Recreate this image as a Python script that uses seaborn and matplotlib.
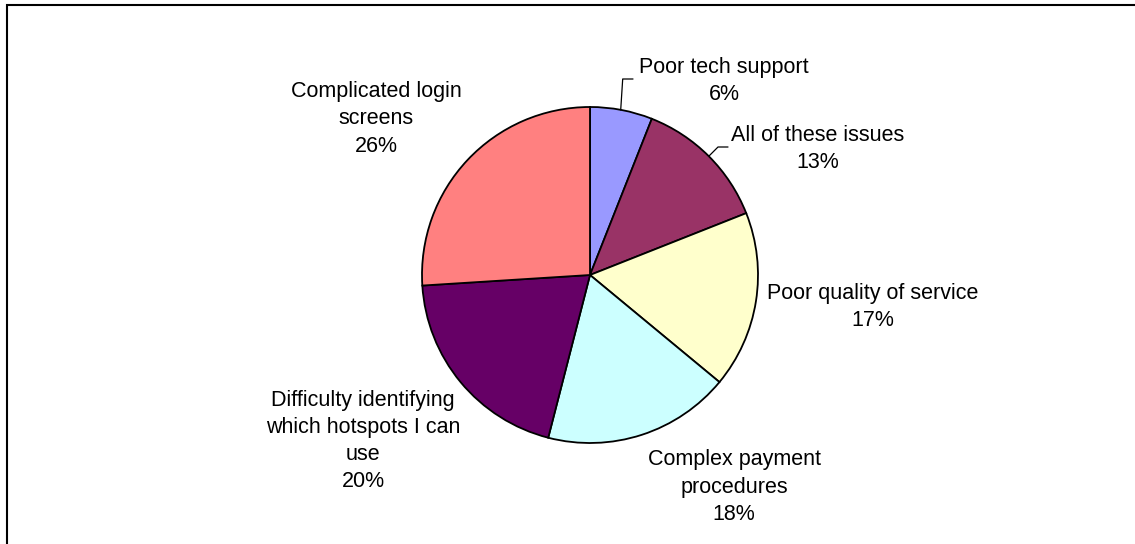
import matplotlib
matplotlib.use("Agg")
import matplotlib.pyplot as plt
import seaborn as sns
from matplotlib.patches import Rectangle

# slice data, clockwise from 12 o'clock
categories = [
    "Poor tech support",
    "All of these issues",
    "Poor quality of service",
    "Complex payment\nprocedures",
    "Difficulty identifying\nwhich hotspots I can\nuse",
    "Complicated login\nscreens",
]
shares = [6, 13, 17, 18, 20, 26]
slice_colors = ["#9999FF", "#993366", "#FFFFCC", "#CCFFFF", "#660066", "#FF8080"]

# label block centres in pixels (x from left, y from top)
label_pos = [(724, 81), (818, 149), (873, 307), (734, 487), (363, 441), (376, 119)]

# leader lines for the two small slices (pixels, y from top)
leaders = [
    [(620.7, 110), (622.7, 79), (633, 79)],
    [(709, 156), (718, 147), (728, 147)],
]

W, H = 1135, 544
sns.set_theme(style="white")
plt.rcParams["font.family"] = ["Liberation Sans", "DejaVu Sans"]

fig = plt.figure(figsize=(W / 100, H / 100), dpi=100)
ax = fig.add_axes([0, 0, 1, 1])

palette = sns.color_palette(slice_colors)
ax.pie(shares, colors=palette, startangle=90, counterclock=False,
       center=(590, H - 275), radius=168, frame=True,
       wedgeprops=dict(edgecolor="black", linewidth=1.3))
ax.set_xlim(0, W)
ax.set_ylim(0, H)
ax.set_aspect("equal")
ax.axis("off")

for cat, val, (x, y) in zip(categories, shares, label_pos):
    ax.text(x, H - y, f"{cat}\n{val}%", ha="center", va="center",
            fontsize=15.5, color="black", linespacing=1.38)

for pts in leaders:
    ax.plot([p[0] for p in pts], [H - p[1] for p in pts], color="black", lw=0.9)

# chart area border (right/bottom edges fall outside the crop)
fig.patches.append(Rectangle((6.5, -10), W, H - 4.5 + 10, transform=None,
                             fill=False, edgecolor="black", linewidth=1.5))

fig.savefig("out.png", dpi=100)
